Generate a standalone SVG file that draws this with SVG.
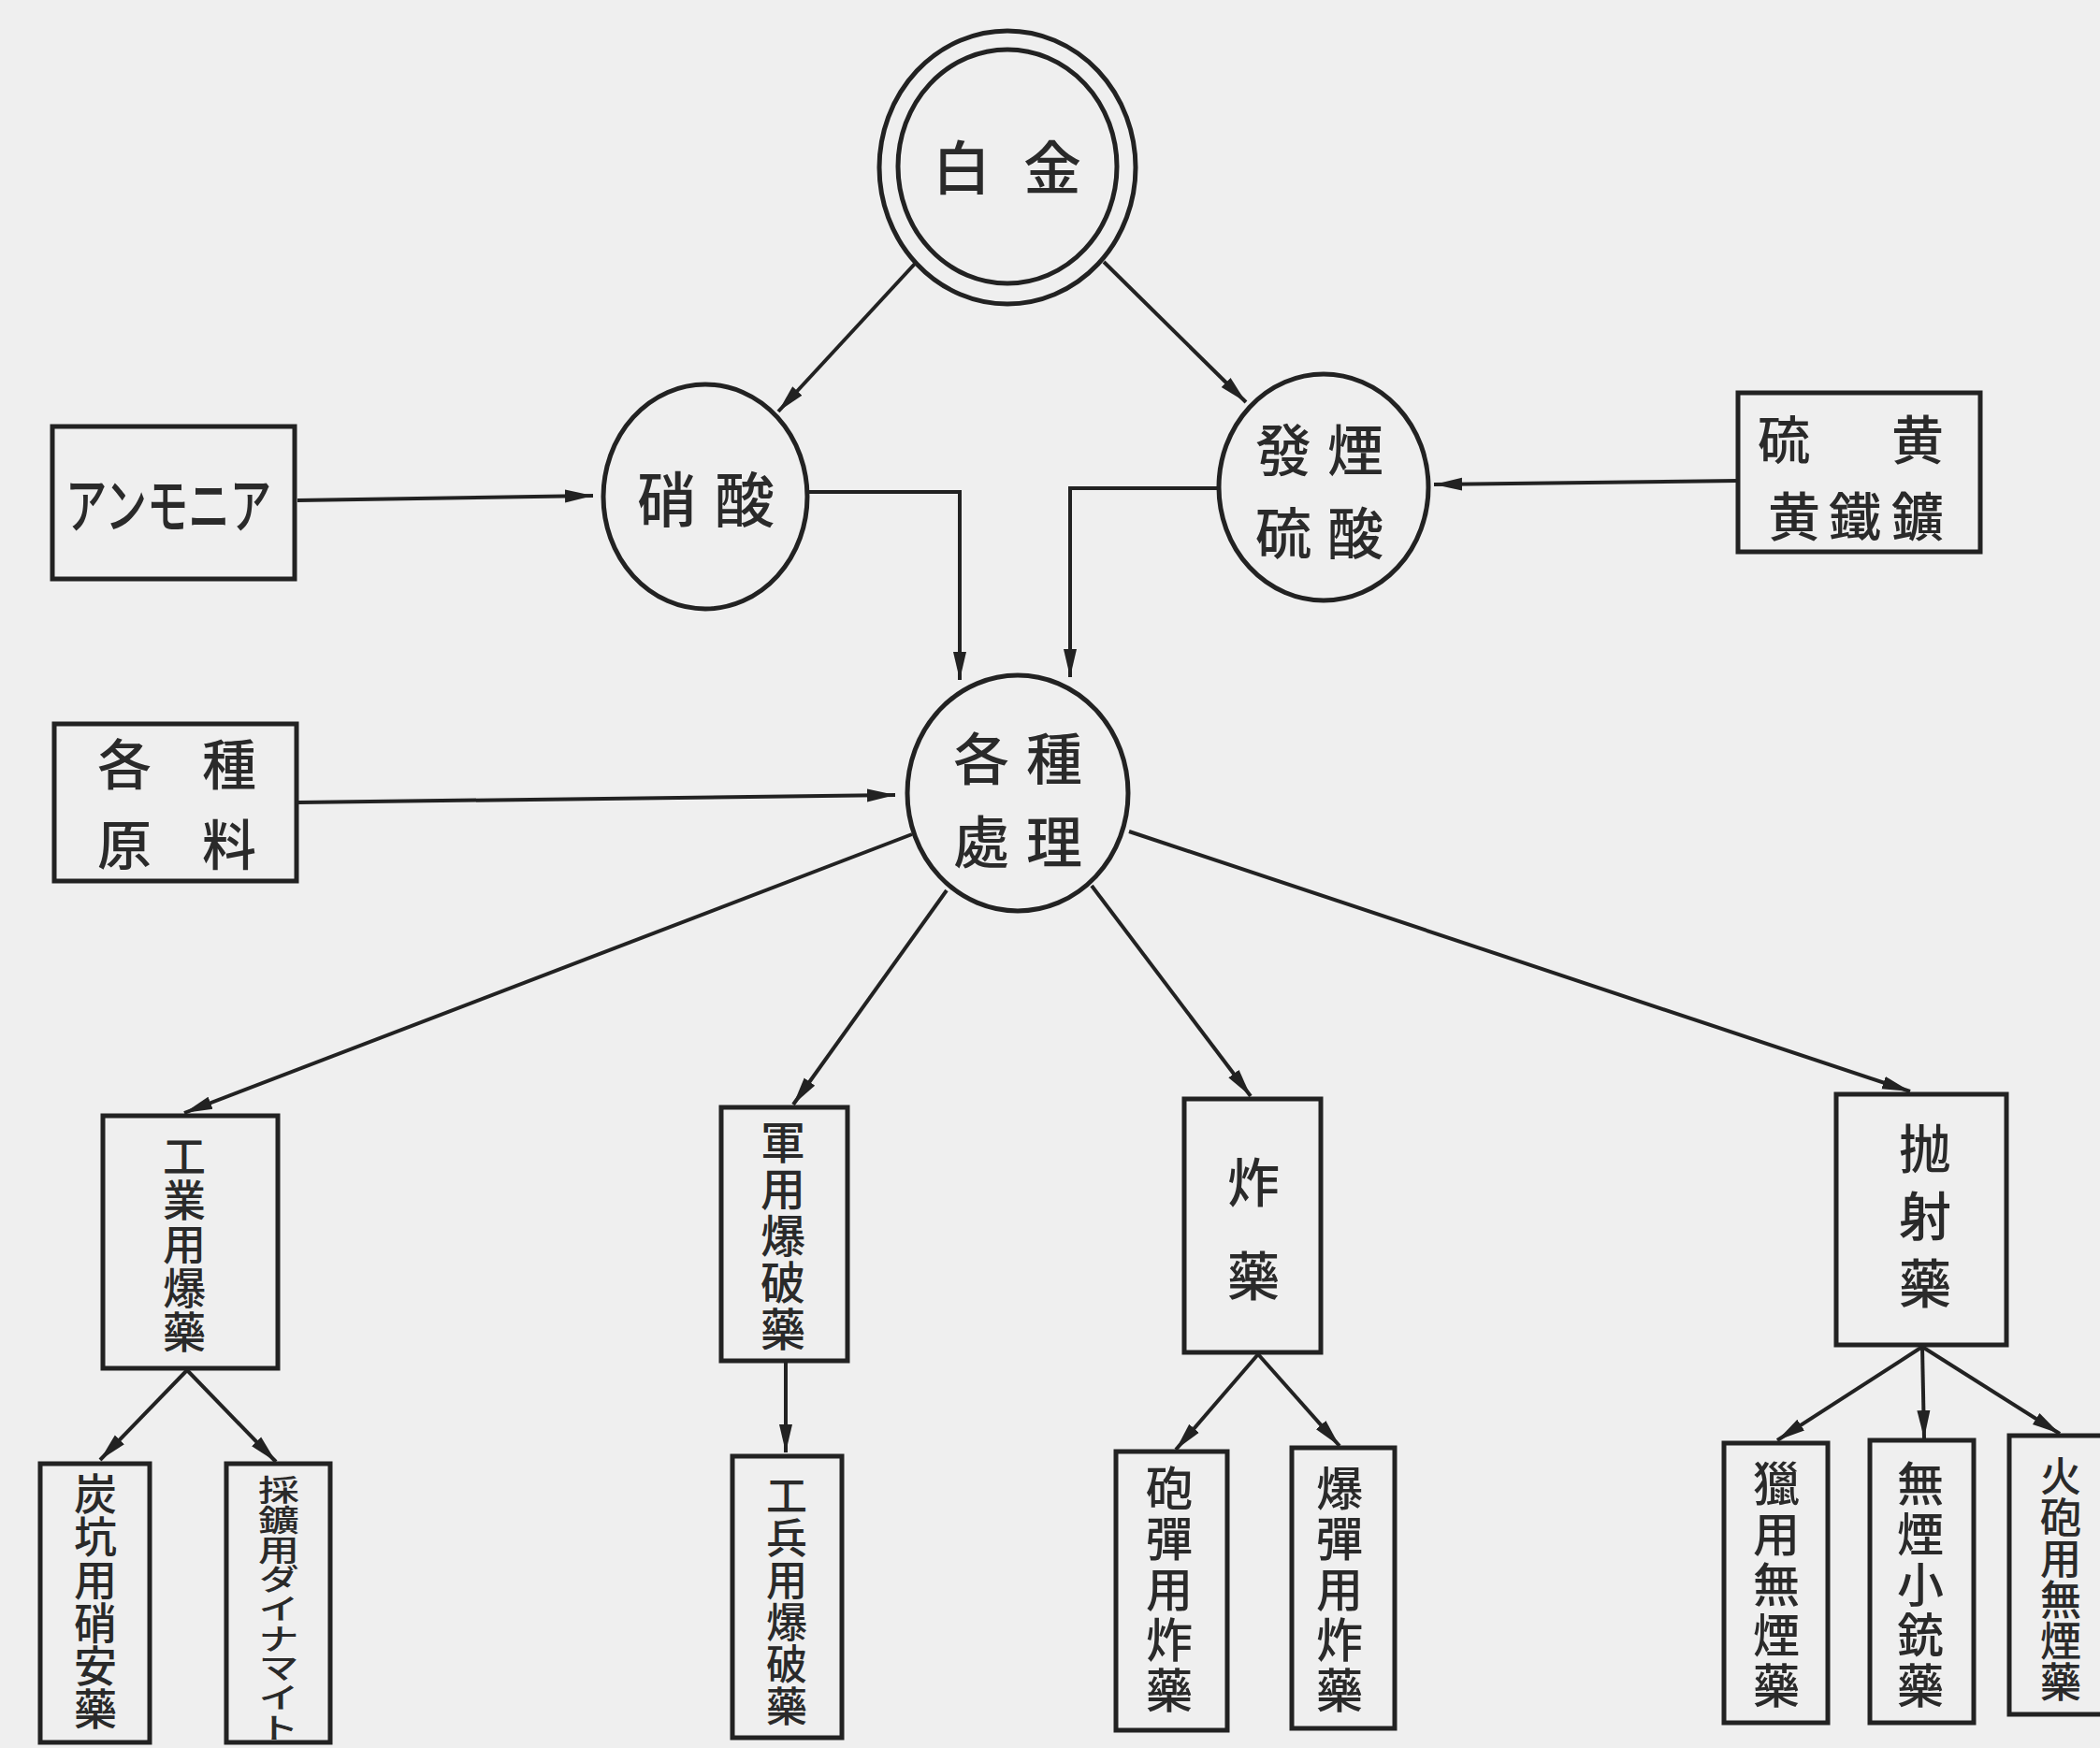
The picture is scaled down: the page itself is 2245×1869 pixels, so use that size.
<svg xmlns="http://www.w3.org/2000/svg" width="2245" height="1869" viewBox="0 0 2245 1869">
<style>
.node{fill:none;stroke:#222;stroke-width:5}
.conn{fill:none;stroke:#222;stroke-width:4}
text{font-family:"Noto Sans CJK JP","Noto Sans CJK TC",sans-serif;fill:#2a2a2a;font-weight:500}
.h{text-anchor:middle;dominant-baseline:central}
.v{writing-mode:vertical-rl;text-anchor:middle;dominant-baseline:central}
</style>
<defs>
<marker id="arr" markerUnits="userSpaceOnUse" markerWidth="32" markerHeight="16" refX="30" refY="8" orient="auto">
<path d="M0,1 L30,8 L0,15 z" fill="#222"/>
</marker>
</defs>
<rect width="2245" height="1869" fill="#efefef"/>
<g id="connectors">
<path class="conn" d="M978,282 L832,440" marker-end="url(#arr)"/>
<path class="conn" d="M1180,280 L1332,430" marker-end="url(#arr)"/>
<path class="conn" d="M318,535 L634,530" marker-end="url(#arr)"/>
<path class="conn" d="M1858,514 L1533,518" marker-end="url(#arr)"/>
<path class="conn" d="M863,526 H1026 V727" marker-end="url(#arr)"/>
<path class="conn" d="M1303,522 H1144 V724" marker-end="url(#arr)"/>
<path class="conn" d="M319,858 L957,850" marker-end="url(#arr)"/>
<path class="conn" d="M975,892 L197,1190" marker-end="url(#arr)"/>
<path class="conn" d="M1012,952 L848,1181" marker-end="url(#arr)"/>
<path class="conn" d="M1167,947 L1337,1172" marker-end="url(#arr)"/>
<path class="conn" d="M1207,889 L2042,1167" marker-end="url(#arr)"/>
<path class="conn" d="M200,1465 L107,1561" marker-end="url(#arr)"/>
<path class="conn" d="M200,1465 L295,1563" marker-end="url(#arr)"/>
<path class="conn" d="M840,1456 L840,1553" marker-end="url(#arr)"/>
<path class="conn" d="M1345,1448 L1257,1550" marker-end="url(#arr)"/>
<path class="conn" d="M1345,1448 L1432,1546" marker-end="url(#arr)"/>
<path class="conn" d="M2055,1440 L1900,1540" marker-end="url(#arr)"/>
<path class="conn" d="M2055,1440 L2057,1538" marker-end="url(#arr)"/>
<path class="conn" d="M2055,1440 L2202,1533" marker-end="url(#arr)"/>
</g>
<g id="hakkin">
<ellipse class="node" cx="1077" cy="179" rx="137" ry="146"/>
<ellipse class="node" cx="1077" cy="178" rx="117" ry="125"/>
<text class="h" x="1028 1125" y="176" font-size="62">白金</text>
</g>
<g id="shosan">
<ellipse class="node" cx="754" cy="531" rx="109" ry="120"/>
<text class="h" x="713 796" y="530" font-size="64">硝酸</text>
</g>
<g id="hatsuen-ryusan">
<ellipse class="node" cx="1415" cy="521" rx="112" ry="121"/>
<text class="h" font-size="60"><tspan x="1372 1449" y="477">發煙</tspan><tspan x="1372 1449" y="566">硫酸</tspan></text>
</g>
<g id="ammonia">
<rect class="node" x="56" y="456" width="259" height="163"/>
<text class="h" x="180" y="536" font-size="64" textLength="220" lengthAdjust="spacingAndGlyphs">アンモニア</text>
</g>
<g id="iou">
<rect class="node" x="1858" y="420" width="259" height="170"/>
<text class="h" x="1907 2050" y="466" font-size="56">硫黄</text>
<text class="h" x="1918 1983 2050" y="548" font-size="56">黄鐵鑛</text>
</g>
<g id="kakushu-genryo">
<rect class="node" x="58" y="774" width="259" height="168"/>
<text class="h" x="133 245" y="814" font-size="58">各種</text>
<text class="h" x="133 245" y="900" font-size="58">原料</text>
</g>
<g id="kakushu-shori">
<ellipse class="node" cx="1088" cy="848" rx="118" ry="126"/>
<text class="h" font-size="60"><tspan x="1049 1127" y="807">各種</tspan><tspan x="1049 1127" y="896">處理</tspan></text>
</g>
<g id="kogyoyo">
<rect class="node" x="110" y="1193" width="187" height="270"/>
<text class="v" x="197" y="1330" font-size="46" letter-spacing="1">工業用爆藥</text>
</g>
<g id="gunyo">
<rect class="node" x="771" y="1184" width="135" height="271"/>
<text class="v" x="837" y="1322" font-size="48" letter-spacing="2">軍用爆破藥</text>
</g>
<g id="sakuyaku">
<rect class="node" x="1266" y="1175" width="146" height="271"/>
<text class="v" x="1340" y="1336" font-size="56" letter-spacing="44">炸藥</text>
</g>
<g id="hoshayaku">
<rect class="node" x="1963" y="1170" width="182" height="268"/>
<text class="v" x="2058" y="1308" font-size="56" letter-spacing="16">抛射藥</text>
</g>
<g id="tanko">
<rect class="node" x="43" y="1565" width="117" height="298"/>
<text class="v" x="102" y="1712" font-size="46">炭坑用硝安藥</text>
</g>
<g id="saiko">
<rect class="node" x="242" y="1565" width="111" height="298"/>
<g transform="translate(298,1720) scale(1,0.72)">
<text class="v" x="0" y="0" font-size="44">採鑛用ダイナマイト</text>
</g>
</g>
<g id="kohei">
<rect class="node" x="783" y="1557" width="117" height="301"/>
<text class="v" x="841" y="1712" font-size="44" letter-spacing="1">工兵用爆破藥</text>
</g>
<g id="hodan">
<rect class="node" x="1193" y="1552" width="119" height="298"/>
<text class="v" x="1250" y="1701" font-size="50" letter-spacing="4">砲彈用炸藥</text>
</g>
<g id="bakudan">
<rect class="node" x="1381" y="1548" width="110" height="300"/>
<text class="v" x="1432" y="1701" font-size="50" letter-spacing="4">爆彈用炸藥</text>
</g>
<g id="ryoyo">
<rect class="node" x="1843" y="1543" width="111" height="299"/>
<text class="v" x="1899" y="1696" font-size="50" letter-spacing="4">獵用無煙藥</text>
</g>
<g id="shojuyaku">
<rect class="node" x="1999" y="1540" width="111" height="302"/>
<text class="v" x="2053" y="1696" font-size="50" letter-spacing="4">無煙小銃藥</text>
</g>
<g id="kahoyo">
<rect class="node" x="2148" y="1535" width="114" height="298"/>
<text class="v" x="2203" y="1688" font-size="44">火砲用無煙藥</text>
</g>
</svg>
